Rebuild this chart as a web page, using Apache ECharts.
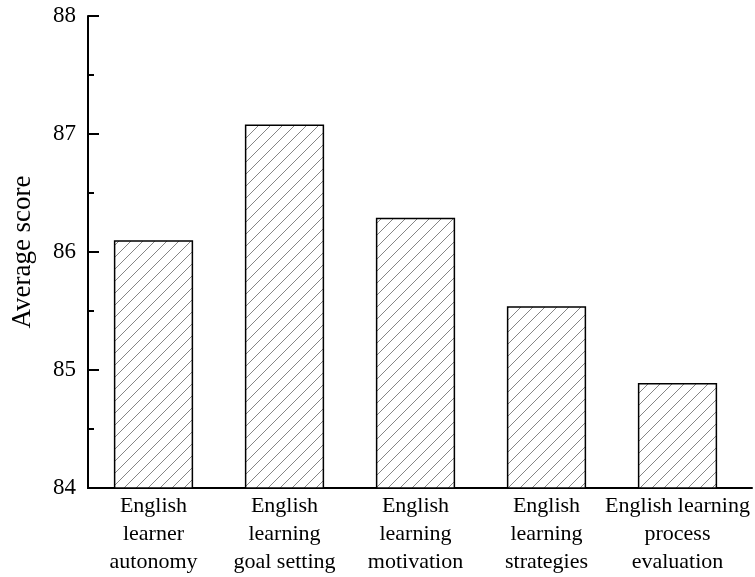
<!DOCTYPE html>
<html>
<head>
<meta charset="utf-8">
<script src="https://cdn.jsdelivr.net/npm/echarts@6/dist/echarts.min.js"></script>
<style>
  html, body { margin: 0; padding: 0; background: #fff; }
  #main { width: 755px; height: 577px; }
</style>
</head>
<body>
<div id="main"></div>
<script>
var categories = [
  'English\nlearner\nautonomy',
  'English\nlearning\ngoal setting',
  'English\nlearning\nmotivation',
  'English\nlearning\nstrategies',
  'English learning\nprocess\nevaluation'
];
var scores = [86.1, 87.08, 86.29, 85.54, 84.89];
var yMin = 84, yMax = 88;

// hatch pattern "/"
function makeHatch() {
  var s = 12;
  var c = document.createElement('canvas');
  c.width = s; c.height = s;
  var ctx = c.getContext('2d');
  ctx.fillStyle = '#fff';
  ctx.fillRect(0, 0, s, s);
  ctx.strokeStyle = '#777';
  ctx.lineWidth = 0.9;
  ctx.beginPath();
  ctx.moveTo(-1, s + 1); ctx.lineTo(s + 1, -1);
  ctx.moveTo(-1, 1); ctx.lineTo(1, -1);
  ctx.moveTo(s - 1, s + 1); ctx.lineTo(s + 1, s - 1);
  ctx.stroke();
  return c;
}

var chart = echarts.init(document.getElementById('main'));
var font = '"Liberation Serif", "Times New Roman", serif';
var option = {
  animation: false,
  grid: [
    { left: 88, right: 12, top: 16, bottom: 89 },
    // only used to run the bottom axis line out to the right edge
    { left: 88, right: 3, top: 16, bottom: 89 }
  ],
  xAxis: [{
    type: 'category',
    gridIndex: 0,
    data: categories,
    axisLine: { lineStyle: { color: '#000', width: 2 } },
    axisTick: { show: true, alignWithLabel: true, inside: true, length: 9, lineStyle: { color: '#000', width: 2 } },
    axisLabel: {
      interval: 0, color: '#000', fontFamily: font, fontSize: 22,
      lineHeight: 28, margin: 4, align: 'center'
    }
  }, {
    type: 'value',
    gridIndex: 1,
    axisLine: { show: true, lineStyle: { color: '#000', width: 2 } },
    axisTick: { show: false },
    axisLabel: { show: false },
    splitLine: { show: false }
  }],
  yAxis: [{
    type: 'value',
    gridIndex: 0,
    min: yMin, max: yMax, interval: 1,
    name: 'Average score',
    nameLocation: 'middle',
    nameGap: 52,
    nameRotate: 90,
    nameTextStyle: { color: '#000', fontFamily: font, fontSize: 27 },
    axisLine: { show: true, lineStyle: { color: '#000', width: 2 } },
    axisTick: { show: true, inside: true, length: 11, lineStyle: { color: '#000', width: 2 } },
    minorTick: { show: true, splitNumber: 2, length: 6, lineStyle: { color: '#000', width: 2 } },
    splitLine: { show: false },
    axisLabel: { color: '#000', fontFamily: font, fontSize: 23, margin: 12 }
  }, {
    type: 'value',
    gridIndex: 1,
    show: false
  }],
  series: [{
    type: 'bar',
    xAxisIndex: 0,
    yAxisIndex: 0,
    data: scores,
    barWidth: '60.5%',
    itemStyle: {
      color: { image: makeHatch(), repeat: 'repeat' },
      borderColor: '#000',
      borderWidth: 1.5
    }
  }]
};
chart.setOption(option);
</script>
</body>
</html>
